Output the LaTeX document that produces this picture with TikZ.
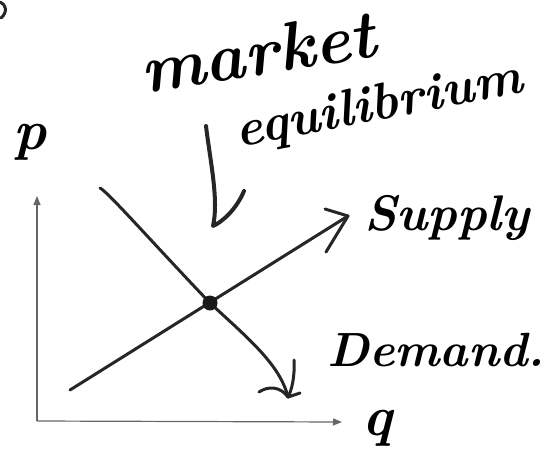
\documentclass[tikz,border=0pt]{standalone}
\usetikzlibrary{arrows.meta}
\begin{document}
\begin{tikzpicture}[x=1pt,y=-1pt,
  curve/.style={line width=3pt, line cap=round, line join=round, draw=black!85},
  axis/.style={line width=1.2pt, draw=black!60, -{Triangle[length=9pt,width=7pt]}},
  hand/.style={inner sep=0pt, text=black}]
\useasboundingbox (0,0) rectangle (554,469);
% cropped stroke in the corner
\draw[curve] (0,2) .. controls (6,4) and (8,12) .. (1,18);
% texts
\node[hand, rotate=9, font=\fontsize{68}{68}\selectfont\bfseries\itshape] (mk) at (258,52) {market};
\node[hand, rotate=11, font=\fontsize{52}{52}\selectfont\bfseries\itshape] (eq) at (379,107) {equilibrium};
\node[hand, font=\fontsize{50}{50}\selectfont\bfseries\itshape] (sup) at (447,218) {Supply};
\node[hand, font=\fontsize{48}{48}\selectfont\bfseries\itshape] (dem) at (436,350) {Demand.};
\node[hand, font=\fontsize{56}{56}\selectfont\bfseries\itshape] (p) at (30,142) {p};
\node[hand, font=\fontsize{56}{56}\selectfont\bfseries\itshape] (q) at (377,428) {q};
% axes
\coordinate (o) at (37,421);
\coordinate (ytop) at (37,196);
\coordinate (xend) at (342,422);
\draw[axis] (o) -- (ytop);
\draw[axis] (o) -- (xend);
% supply
\coordinate (s1) at (70,390);
\coordinate (s2) at (348,216);
\coordinate (sb1) at (325,209);
\coordinate (sb2) at (326,252);
\draw[curve] (s1) -- (s2);
\draw[curve] (sb1) -- (s2) -- (sb2);
% demand
\coordinate (d1) at (100,188);
\coordinate (eqpt) at (210,303);
\coordinate (d2) at (288,397);
\draw[curve] (d1) .. controls (108,192) and (150,240) .. (eqpt)
  .. controls (250,340) and (280,365) .. (d2);
\draw[curve] (259,392) .. controls (268,386) and (280,386) .. (d2);
\draw[curve] (294,360) .. controls (295,375) and (292,390) .. (d2);
\draw[curve] (d2) -- (300,393);
% equilibrium point
\fill[black!90] (eqpt) circle (7.5);
% pointer arrow
\coordinate (a1) at (206,126);
\coordinate (a2) at (213,226);
\coordinate (a3) at (244,191);
\draw[curve, line width=4pt] (a1) .. controls (210,160) and (219,200) .. (a2)
  .. controls (222,222) and (236,210) .. (a3);
\end{tikzpicture}
\end{document}
